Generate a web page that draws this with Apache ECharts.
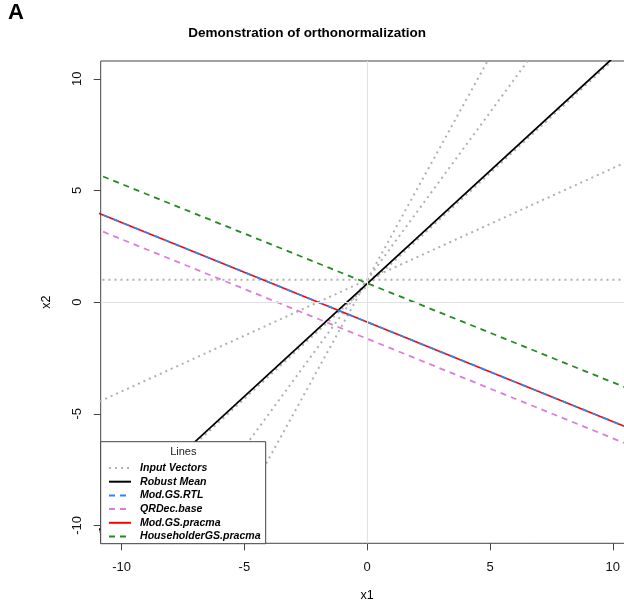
<!DOCTYPE html>
<html>
<head>
<meta charset="utf-8">
<script src="https://cdn.jsdelivr.net/npm/echarts@6/dist/echarts.min.js"></script>
<style>html,body{margin:0;padding:0;background:#fff}#c{width:624px;height:613px}</style>
</head>
<body>
<div id="c"></div>
<script>
// Axis ticks
var xTicks = [-10, -5, 0, 5, 10];
var yTicks = [-10, -5, 0, 5, 10];
// Input vectors (endpoints)
var inputH    = [[-12, 1.0], [12, 1.0]];
var inputS05  = [[-12, -5.0], [12, 7.0]];
var inputS1   = [[-12, -11.4], [12, 12.85]];
var inputS15  = [[-12, -17.0], [12, 19.0]];
var inputS2   = [[-12, -23.0], [12, 25.0]];
// Result lines
var robustMean   = [[-12, -11.29], [12, 12.95]];
var modGSRTL     = [[-12, 4.46], [12, -6.24]];
var qrDecBase    = [[-12, 3.71], [12, -6.99]];
var modGSPracma  = [[-12, 4.46], [12, -6.24]];
var householder  = [[-12, 6.18], [12, -4.48]];

var FONT = '"Liberation Sans", Arial, sans-serif';
var chart = echarts.init(document.getElementById('c'), null, {renderer: 'canvas'});

function s(name, data, color, type, width, z) {
  return {
    name: name, type: 'line', data: data, showSymbol: false, symbol: 'none',
    clip: true, silent: true, animation: false, z: z || 2,
    lineStyle: {color: color, type: type, width: width},
    itemStyle: {color: color}
  };
}
var grey = '#b0b0b0';
var dotted = [2, 4];
var dashed = [6, 5];

var series = [
  {
    name: 'zero', type: 'line', data: [], silent: true, animation: false, z: 1,
    markLine: {
      silent: true, symbol: 'none', animation: false,
      label: {show: false},
      lineStyle: {color: '#e2e2e2', type: 'solid', width: 1},
      data: [{xAxis: 0}, {yAxis: 0}]
    }
  },
  s('Input Vectors', inputH, grey, dotted, 2),
  s('Input Vectors', inputS05, grey, dotted, 2),
  s('Input Vectors', inputS1, grey, dotted, 2),
  s('Input Vectors', inputS15, grey, dotted, 2),
  s('Input Vectors', inputS2, grey, dotted, 2),
  s('Robust Mean', robustMean, '#000000', 'solid', 1.8, 3),
  s('Mod.GS.pracma', modGSPracma, '#ff0000', 'solid', 1.6, 2),
  s('Mod.GS.RTL', modGSRTL, '#2f86f0', dashed, 1.8, 3),
  s('QRDec.base', qrDecBase, '#da7ed8', dashed, 1.8, 3),
  s('HouseholderGS.pracma', householder, '#228b22', dashed, 1.8, 3)
];

chart.setOption({
  animation: false,
  backgroundColor: '#ffffff',
  title: {
    text: 'Demonstration of orthonormalization',
    left: 302, top: 21, textAlign: 'center',
    textStyle: {fontFamily: FONT, fontWeight: 'bold', fontSize: 13.5, color: '#000'}
  },
  grid: {
    left: 100.7, top: 61, width: 533, height: 482.3,
    show: true, borderColor: '#444', borderWidth: 1, backgroundColor: 'transparent',
    containLabel: false, outerBoundsMode: 'none'
  },
  xAxis: {
    type: 'value', min: -10.85, max: 10.85,
    name: 'x1', nameLocation: 'middle', nameGap: 46,
    nameTextStyle: {fontFamily: FONT, fontSize: 12.5, color: '#000'},
    axisLine: {show: false, onZero: false},
    axisTick: {show: true, length: 7, lineStyle: {color: '#444'}, customValues: xTicks},
    axisLabel: {margin: 18, fontFamily: FONT, fontSize: 13, color: '#111', customValues: xTicks},
    splitLine: {show: false}
  },
  yAxis: {
    type: 'value', min: -10.8, max: 10.8,
    name: 'x2', nameLocation: 'middle', nameGap: 48, nameRotate: 90,
    nameTextStyle: {fontFamily: FONT, fontSize: 12.5, color: '#000'},
    axisLine: {show: false, onZero: false},
    axisTick: {show: true, length: 7, lineStyle: {color: '#444'}, customValues: yTicks},
    axisLabel: {margin: 17, rotate: 90, fontFamily: FONT, fontSize: 13, color: '#111', customValues: yTicks},
    splitLine: {show: false}
  },
  legend: {
    orient: 'vertical', left: 108, top: 462.5, padding: 0, z: 60,
    itemWidth: 22, itemHeight: 10, itemGap: 2.7,
    data: ['Input Vectors', 'Robust Mean', 'Mod.GS.RTL', 'QRDec.base', 'Mod.GS.pracma', 'HouseholderGS.pracma'],
    selectedMode: false,
    itemStyle: {opacity: 0},
    textStyle: {fontFamily: FONT, fontSize: 10.6, fontWeight: 'bold', fontStyle: 'italic', color: '#000', padding: [0, 0, 0, 4]}
  },
  graphic: [
    {type: 'text', left: 8, top: 2, z: 100,
     style: {text: 'A', font: 'bold 22px ' + FONT, fill: '#000'}},
    {type: 'rect', z: 50, shape: {x: 100.7, y: 441.7, width: 165, height: 102},
     style: {fill: '#fff', stroke: '#444', lineWidth: 1}},
    {type: 'text', z: 60, x: 183.3, y: 451.7,
     style: {text: 'Lines', font: '11px ' + FONT, fill: '#222', align: 'center', verticalAlign: 'middle'}}
  ],
  series: series
});
</script>
</body>
</html>
